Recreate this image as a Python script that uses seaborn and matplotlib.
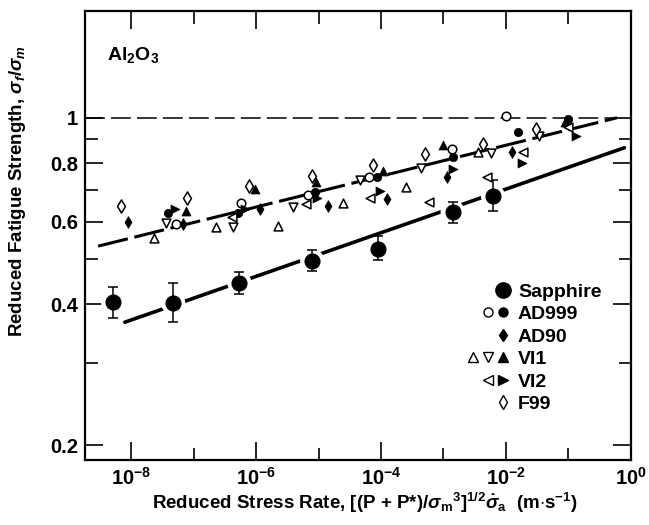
import numpy as np
import matplotlib
matplotlib.use("Agg")
import matplotlib.pyplot as plt
import seaborn as sns
from matplotlib.lines import Line2D
from matplotlib.legend_handler import HandlerTuple
from matplotlib.ticker import FixedLocator, NullFormatter

# --- data (stress rate in m/s, strength ratio) ---
sapphire_x = [5.1e-9, 4.7e-8, 5.4e-7, 7.9e-6, 8.9e-5, 1.4e-3, 6.2e-3]
sapphire_y = [0.405, 0.402, 0.444, 0.495, 0.525, 0.63, 0.68]
sapphire_lo = [0.374, 0.366, 0.421, 0.471, 0.497, 0.596, 0.633]
sapphire_hi = [0.435, 0.444, 0.469, 0.522, 0.56, 0.661, 0.737]

ad999_open_x = [5.25e-8, 5.75e-7, 6.76e-6, 6.46e-5, 1.38e-3, 1.0e-2]
ad999_open_y = [0.593, 0.658, 0.685, 0.748, 0.858, 1.01]
ad999_fill_x = [3.89e-8, 5.13e-7, 8.71e-6, 8.71e-5, 1.41e-3, 1.55e-2, 9.8e-2]
ad999_fill_y = [0.627, 0.627, 0.695, 0.748, 0.825, 0.933, 0.995]

ad90_x = [8.9e-9, 6.76e-8, 1.15e-6, 1.41e-5, 1.26e-4, 1.15e-3, 1.26e-2]
ad90_y = [0.600, 0.593, 0.639, 0.648, 0.671, 0.748, 0.846]

vi1_up_x = [2.34e-8, 2.29e-7, 2.24e-6, 2.45e-5, 2.51e-4, 3.55e-3]
vi1_up_y = [0.554, 0.585, 0.588, 0.658, 0.712, 0.846]
vi1_down_x = [3.63e-8, 4.27e-7, 3.89e-6, 4.57e-5, 4.37e-4, 5.75e-3, 3.39e-2]
vi1_down_y = [0.596, 0.585, 0.645, 0.737, 0.782, 0.842, 0.915]
vi1_fill_x = [7.59e-8, 9.55e-7, 9.12e-6, 1.07e-4, 9.77e-4, 8.71e-2]
vi1_fill_y = [0.633, 0.705, 0.730, 0.770, 0.876, 0.98]

vi2_open_x = [4.17e-7, 6.31e-6, 6.61e-5, 5.89e-4, 5.01e-3, 1.86e-2, 1.0e-1]
vi2_open_y = [0.614, 0.655, 0.675, 0.661, 0.748, 0.846, 0.957]
vi2_fill_x = [5.01e-8, 6.61e-7, 9.55e-6, 9.55e-5, 1.41e-3, 1.82e-2, 1.32e-1]
vi2_fill_y = [0.639, 0.639, 0.675, 0.698, 0.778, 0.80, 0.915]

f99_x = [6.9e-9, 7.94e-8, 7.76e-7, 7.94e-6, 7.41e-5, 5.01e-4, 4.27e-3, 3.02e-2]
f99_y = [0.648, 0.675, 0.715, 0.752, 0.793, 0.838, 0.88, 0.947]

# fitted lines (end points)
sapphire_fit_x = [7.9e-9, 0.79]
sapphire_fit_y = [0.366, 0.863]
poly_fit_x = [2.95e-9, 0.60]
poly_fit_y = [0.532, 1.0]

sns.set_theme(style="ticks")
plt.rcParams["font.family"] = ["Liberation Sans", "DejaVu Sans"]
plt.rcParams["font.weight"] = "bold"
plt.rcParams["text.color"] = "black"
plt.rcParams["axes.labelcolor"] = "black"
plt.rcParams["xtick.color"] = "black"
plt.rcParams["ytick.color"] = "black"
plt.rcParams["mathtext.fontset"] = "custom"
plt.rcParams["mathtext.rm"] = "Liberation Sans:bold"
plt.rcParams["mathtext.bf"] = "Liberation Sans:bold"
plt.rcParams["mathtext.it"] = "Liberation Sans:italic"
plt.rcParams["mathtext.sf"] = "Liberation Sans:bold"

fig, ax = plt.subplots(figsize=(6.49, 5.25), dpi=100)
fig.subplots_adjust(left=0.131, right=0.972, bottom=0.124, top=0.979)
ax.set_xscale("log")
ax.set_yscale("log")

# reference line at 1
ax.axhline(1.0, xmax=0.97, color="black", lw=1.1, dashes=(13, 4), zorder=1)

# fit lines
sns.lineplot(x=sapphire_fit_x, y=sapphire_fit_y, ax=ax, color="black", lw=2.6,
             estimator=None, sort=False, zorder=2)
sns.lineplot(x=poly_fit_x, y=poly_fit_y, ax=ax, color="black", lw=2.2,
             estimator=None, sort=False, zorder=2, linestyle=(0, (10, 2.2)))

# sapphire with error bars (white halo breaks the fit line)
sns.scatterplot(x=sapphire_x, y=sapphire_y, ax=ax, s=300, color="white",
                edgecolor="none", zorder=3)
yerr = [np.array(sapphire_y) - np.array(sapphire_lo),
        np.array(sapphire_hi) - np.array(sapphire_y)]
ax.errorbar(sapphire_x, sapphire_y, yerr=yerr, fmt="none", ecolor="black",
            elinewidth=1.1, capsize=3.5, capthick=1.1, zorder=4)
sns.scatterplot(x=sapphire_x, y=sapphire_y, ax=ax, s=115, color="black",
                edgecolor="black", zorder=5)

def pts(x, y, marker, filled, s):
    if filled:
        sns.scatterplot(x=x, y=y, ax=ax, marker=marker, s=s, color="black",
                        edgecolor="black", linewidth=0.5, zorder=6)
    else:
        sns.scatterplot(x=x, y=y, ax=ax, marker=marker, s=s, color="white",
                        edgecolor="black", linewidth=1.1, zorder=6)

pts(ad999_open_x, ad999_open_y, "o", False, 38)
pts(ad999_fill_x, ad999_fill_y, "o", True, 36)
pts(ad90_x, ad90_y, "d", True, 36)
pts(vi1_up_x, vi1_up_y, "^", False, 40)
pts(vi1_down_x, vi1_down_y, "v", False, 40)
pts(vi1_fill_x, vi1_fill_y, "^", True, 42)
pts(vi2_open_x, vi2_open_y, "<", False, 40)
pts(vi2_fill_x, vi2_fill_y, ">", True, 42)
pts(f99_x, f99_y, "d", False, 45)

# axes
ax.set_xlim(10 ** -8.74, 1.0)
ax.set_ylim(0.186, 1.69)
ax.xaxis.set_major_locator(FixedLocator([1e-8, 1e-6, 1e-4, 1e-2, 1]))
ax.set_xticklabels([r"$\mathregular{10^{-8}}$", r"$\mathregular{10^{-6}}$",
                    r"$\mathregular{10^{-4}}$", r"$\mathregular{10^{-2}}$",
                    r"$\mathregular{10^{0}}$"])
ax.xaxis.set_minor_locator(FixedLocator([1e-7, 1e-5, 1e-3, 1e-1]))
ax.xaxis.set_minor_formatter(NullFormatter())
ax.yaxis.set_major_locator(FixedLocator([0.2, 0.4, 0.6, 0.8, 1.0]))
ax.set_yticklabels(["0.2", "0.4", "0.6", "0.8", "1"])
ax.yaxis.set_minor_locator(FixedLocator([0.3, 0.5, 0.7, 0.9]))
ax.yaxis.set_minor_formatter(NullFormatter())

ax.tick_params(which="both", direction="in", top=True, right=True,
               width=1.2, colors="black", labelsize=14.5, pad=5)
ax.tick_params(which="major", length=13)
ax.tick_params(which="minor", length=9)
for sp in ax.spines.values():
    sp.set_linewidth(1.6)
    sp.set_color("black")

ax.set_ylabel(r"Reduced Fatigue Strength, $\sigma_f/\sigma_m$", fontsize=13.5,
              fontweight="bold")
ax.yaxis.set_label_coords(-0.104, 0.599)
ax.set_xlabel(r"Reduced Stress Rate, [(P + P*)/$\sigma_{\rm m}{}^3$]$^{1/2}$$\dot{\sigma}_{\rm a}$  (m$\cdot$s$^{-1}$)",
              fontsize=13.5, fontweight="bold")
ax.xaxis.set_label_coords(0.513, -0.07)

ax.text(0.04, 0.902, r"Al$_2$O$_3$", transform=ax.transAxes, fontsize=14,
        fontweight="bold", va="center", ha="left")

# legend
blank = Line2D([], [], linestyle="none")
def mk(marker, filled, ms):
    return Line2D([], [], linestyle="none", marker=marker, markersize=ms,
                  markerfacecolor="black" if filled else "white",
                  markeredgecolor="black", markeredgewidth=1.0)

handles = [
    (blank, blank, mk("o", True, 11)),
    (blank, mk("o", False, 6.5), mk("o", True, 6.5)),
    (blank, blank, mk("d", True, 6.5)),
    (mk("^", False, 6.5), mk("v", False, 6.5), mk("^", True, 6.5)),
    (blank, mk("<", False, 6.5), mk(">", True, 6.5)),
    (blank, blank, mk("d", False, 7)),
]
labels = ["Sapphire", "AD999", "AD90", "VI1", "VI2", "F99"]
ax.legend(handles, labels, handler_map={tuple: HandlerTuple(ndivide=3, pad=0)},
          frameon=False, handlelength=2.3, handletextpad=0.4, labelspacing=0.25,
          borderpad=0, borderaxespad=0, loc="upper left",
          bbox_to_anchor=(0.697, 0.394), prop={"weight": "bold", "size": 14})

fig.savefig("out.png", dpi=100)
